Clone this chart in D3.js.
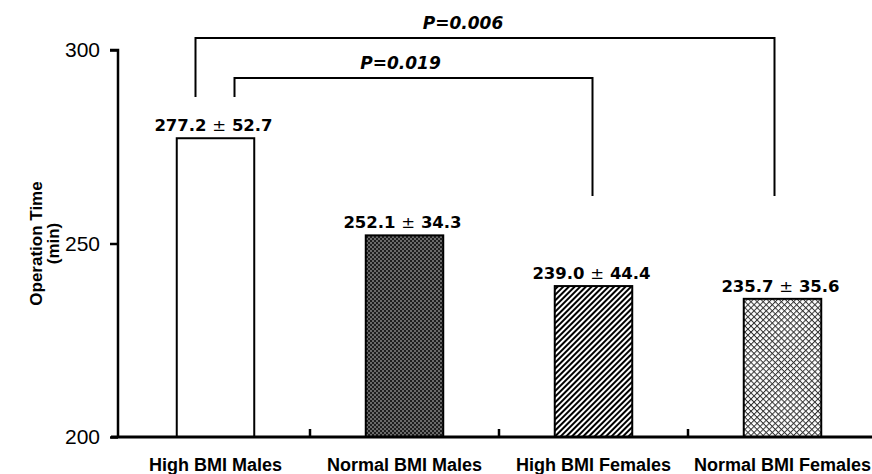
<!DOCTYPE html>
<html><head><meta charset="utf-8">
<script src="https://cdn.jsdelivr.net/npm/d3@7"></script>
<style>body{margin:0;background:#fff}</style>
</head><body>
<svg id="c" width="872" height="474"></svg>
<script>
const categories = ["High BMI Males","Normal BMI Males","High BMI Females","Normal BMI Females"];
const means = [277.2, 252.1, 239.0, 235.7];
const sds = [52.7, 34.3, 44.4, 35.6];
const yTicks = [200, 250, 300];
const brackets = [
  {from: 0, to: 3, p: "P=0.006", level: 2},
  {from: 0, to: 2, p: "P=0.019", level: 1}
];
const fills = ["white","url(#stip)","url(#hatch)","url(#cross)"];

const svg = d3.select("#c");
const font = "'Liberation Sans', Arial, sans-serif";
const heavy = "'DejaVu Sans', sans-serif";
const defs = svg.append("defs");
const st = defs.append("pattern").attr("id","stip").attr("patternUnits","userSpaceOnUse").attr("width",4).attr("height",4);
st.append("rect").attr("width",4).attr("height",4).attr("fill","#1e1e1e");
st.append("rect").attr("x",0).attr("y",0).attr("width",2).attr("height",2).attr("fill","#6a6a6a");
st.append("rect").attr("x",2).attr("y",2).attr("width",2).attr("height",2).attr("fill","#6a6a6a");
const ht = defs.append("pattern").attr("id","hatch").attr("patternUnits","userSpaceOnUse").attr("width",4).attr("height",4).attr("patternTransform","rotate(45)");
ht.append("rect").attr("width",4).attr("height",4).attr("fill","white");
ht.append("rect").attr("width",2).attr("height",4).attr("fill","black");
const cr = defs.append("pattern").attr("id","cross").attr("patternUnits","userSpaceOnUse").attr("width",4.3).attr("height",4.3).attr("patternTransform","rotate(45)");
cr.append("rect").attr("width",4.3).attr("height",4.3).attr("fill","white");
cr.append("rect").attr("width",1).attr("height",4.3).attr("fill","#333");
cr.append("rect").attr("width",4.3).attr("height",1).attr("fill","#333");

const x = d3.scaleBand().domain(categories).range([121, 877]).paddingInner(0.59).paddingOuter(0.295);
const y = d3.scaleLinear().domain([200, 300]).range([437, 50]);

// bars
svg.selectAll("rect.bar").data(categories).join("rect")
  .attr("class","bar")
  .attr("x", d => x(d)).attr("width", x.bandwidth())
  .attr("y", (d,i) => y(means[i])).attr("height", (d,i) => y(200) - y(means[i]))
  .attr("fill", (d,i) => fills[i]).attr("stroke","black").attr("stroke-width",2);

// value labels
const vl = svg.selectAll("text.val").data(categories).join("text")
  .attr("class","val")
  .attr("x", d => x(d) + x.bandwidth()/2 - 2)
  .attr("y", (d,i) => y(means[i]) - 7)
  .attr("text-anchor","middle").attr("font-family",heavy).attr("font-weight","bold").attr("font-size",16.5);
vl.append("tspan").text((d,i) => means[i].toFixed(1) + " ");
vl.append("tspan").attr("font-weight","normal").text("±");
vl.append("tspan").text((d,i) => " " + sds[i].toFixed(1));

// y axis
const ya = svg.append("g").attr("transform","translate(118,0)")
  .call(d3.axisLeft(y).tickValues(yTicks).tickSize(8).tickPadding(10));
ya.select(".domain").attr("d", `M-8,${y(300)}H0V${y(200)}`).attr("stroke-width",2.5);
ya.selectAll(".tick line").attr("stroke-width",2.5);
ya.selectAll(".tick text").attr("font-family",font).attr("font-size",21).attr("fill","black");

// x axis
const xa = svg.append("g").attr("transform",`translate(0,${y(200)})`);
xa.append("line").attr("x1",111).attr("x2",872).attr("y1",0).attr("y2",0).attr("stroke","black").attr("stroke-width",3);
const step = x.step();
xa.selectAll("line.sep").data(categories.slice(1)).join("line").attr("class","sep")
  .attr("x1", d => x(d) + x.bandwidth()/2 - step/2).attr("x2", d => x(d) + x.bandwidth()/2 - step/2)
  .attr("y1",0).attr("y2",-8).attr("stroke","black").attr("stroke-width",2.5);
xa.selectAll("text").data(categories).join("text")
  .attr("x", d => x(d) + x.bandwidth()/2).attr("y", 34)
  .attr("text-anchor","middle").attr("font-family",font).attr("font-weight","bold").attr("font-size",18)
  .text(d => d);

// y label
const yl = svg.append("text").attr("transform",`translate(0,${y(250)}) rotate(-90)`)
  .attr("text-anchor","middle").attr("font-family",font).attr("font-weight","bold").attr("font-size",17);
yl.append("tspan").attr("x",0).attr("y",42).text("Operation Time");
yl.append("tspan").attr("x",0).attr("y",59).text("(min)");

// brackets
const cx = i => x(categories[i]) + x.bandwidth()/2;
brackets.forEach(b => {
  const top = b.level === 2 ? 38 : 78;
  const lx = b.level === 2 ? cx(b.from) - 20 : cx(b.from) + 19;
  const rx = cx(b.to) - (b.level === 2 ? 8 : 1);
  svg.append("path").attr("d", `M${lx},97V${top}H${rx}V196`)
    .attr("fill","none").attr("stroke","black").attr("stroke-width",2);
  svg.append("text").attr("x", (lx + rx)/2 - (b.level===2?22:13)).attr("y", top - 9)
    .attr("text-anchor","middle").attr("font-family",heavy).attr("font-weight","bold").attr("font-style","italic").attr("font-size",17)
    .text(b.p);
});
</script>
</body></html>
